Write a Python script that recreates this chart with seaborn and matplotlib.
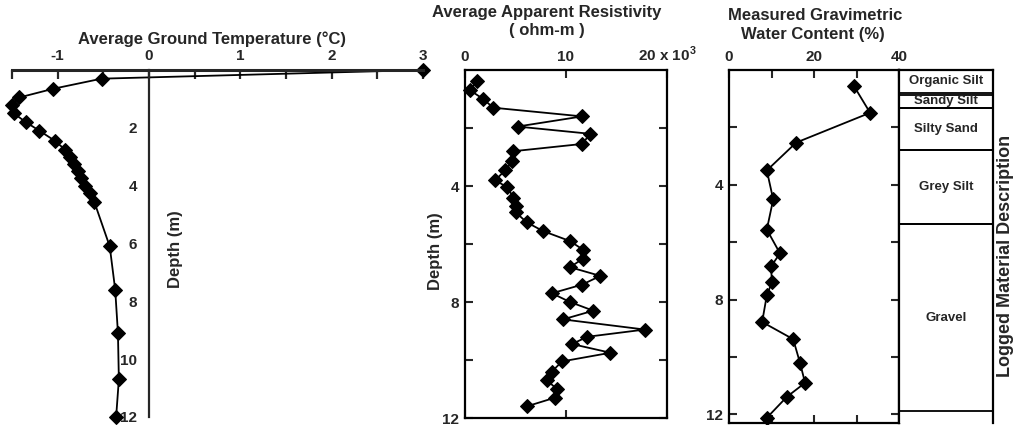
import numpy as np
import matplotlib.pyplot as plt
import seaborn as sns

# Average ground temperature profile
temp_depth = [0.0, 0.3, 0.65, 0.95, 1.2, 1.5, 1.8, 2.1, 2.45, 2.75, 3.0,
              3.25, 3.5, 3.75, 4.0, 4.25, 4.55, 6.1, 7.6, 9.1, 10.7, 12.0]
temp_c = [3.0, -0.52, -1.05, -1.42, -1.5, -1.48, -1.35, -1.2, -1.03, -0.92, -0.86,
          -0.82, -0.78, -0.74, -0.7, -0.65, -0.6, -0.43, -0.37, -0.34, -0.33, -0.36]

# Average apparent resistivity (x 10^3 ohm-m)
res_depth = [0.37, 0.7, 1.0, 1.3, 1.6, 1.95, 2.2, 2.55, 2.8, 3.15, 3.45, 3.8, 4.05,
             4.4, 4.7, 4.9, 5.25, 5.55, 5.9, 6.2, 6.5, 6.8, 7.1, 7.4, 7.7, 8.0,
             8.3, 8.6, 8.95, 9.2, 9.45, 9.75, 10.05, 10.4, 10.7, 11.0, 11.3, 11.6]
res_k = [1.2, 0.5, 1.8, 2.8, 11.6, 5.2, 12.4, 11.6, 4.8, 4.7, 4.0, 3.0, 4.2,
         4.8, 5.0, 5.0, 6.1, 7.7, 10.4, 11.7, 11.7, 10.4, 13.4, 11.6, 8.6, 10.4,
         12.7, 9.7, 17.8, 12.1, 10.6, 14.4, 9.6, 8.6, 8.1, 9.1, 8.9, 6.1]

# Measured gravimetric water content (%)
wc_depth = [0.56, 1.49, 2.53, 3.5, 4.51, 5.56, 6.39, 6.84, 7.4, 7.85, 8.78,
            9.38, 10.2, 10.9, 11.39, 12.12]
wc_pct = [29.4, 33.2, 15.8, 8.9, 10.4, 8.9, 12.0, 9.9, 10.1, 8.9, 7.8,
          15.1, 16.7, 17.9, 13.6, 8.9]

# Logged material description
layer_names = ["Organic Silt", "Sandy Silt", "Silty Sand", "Grey Silt", "Gravel"]
layer_top = [0.0, 0.86, 1.32, 2.78, 5.38]
layer_bottom = [0.8, 1.32, 2.78, 5.38, 11.88]

sns.set_style("white")
plt.rcParams["font.family"] = ["Liberation Sans", "DejaVu Sans"]
plt.rcParams["font.size"] = 11
plt.rcParams["font.weight"] = "bold"
plt.rcParams["axes.labelweight"] = "bold"
plt.rcParams["axes.unicode_minus"] = False
plt.rcParams["mathtext.fontset"] = "custom"
plt.rcParams["mathtext.rm"] = "Liberation Sans:bold"

W, H = 1015, 425
fig = plt.figure(figsize=(W / 100, H / 100), dpi=100)


def box(x0, y0, x1, y1):
    return [x0 / W, 1 - y1 / H, (x1 - x0) / W, (y1 - y0) / H]


ax1 = fig.add_axes(box(12, 70, 423, 417))
ax2 = fig.add_axes(box(465, 70, 667, 418))
ax3 = fig.add_axes(box(729, 70, 899, 423))
ax4 = fig.add_axes(box(899, 70, 993, 423))

line_kw = dict(sort=False, estimator=None, orient="y", color="black", lw=1.3,
               marker="D", markersize=7.5, markeredgecolor="black", clip_on=False)

# --- temperature ---
sns.lineplot(x=temp_c, y=temp_depth, ax=ax1, **line_kw)
ax1.set_xlim(-1.5, 3.0)
ax1.set_ylim(12, 0)
ax1.xaxis.tick_top()
ax1.set_xticks([-1, 0, 1, 2, 3])
ax1.set_xticks(np.arange(-1.5, 3.01, 0.5), minor=True)
ax1.tick_params(axis="x", which="both", direction="in", length=6.5, width=1.6,
                pad=5, top=True, bottom=False)
ax1.set_yticks([2, 4, 6, 8, 10, 12])
ax1.tick_params(axis="y", direction="inout", length=5, width=1.4, pad=6)
for s in ["right", "bottom"]:
    ax1.spines[s].set_visible(False)
ax1.spines["left"].set_position(("data", 0))
ax1.spines["left"].set_linewidth(1.6)
ax1.spines["top"].set_linewidth(2.2)
ax1.set_xlabel("")
ax1.set_ylabel("")
ax1.text(0.29, 6.2, "Depth (m)", rotation=90, ha="center", va="center", fontsize=12)

# --- resistivity ---
sns.lineplot(x=res_k, y=res_depth, ax=ax2, **line_kw)
ax2.set_xlim(0, 20)
ax2.set_ylim(12, 0)
ax2.xaxis.tick_top()
ax2.set_xticks([0, 10, 20])
ax2.set_xticklabels(["0", "10", "20 x 10$^{3}$"])
ax2.set_yticks([2, 4, 6, 8, 10, 12])
ax2.set_yticklabels(["", "4", "", "8", "", "12"])
ax2.set_xlabel("")
ax2.set_ylabel("Depth (m)", fontsize=12)
ax2.yaxis.set_label_coords(-0.11, 0.48)

# --- water content ---
sns.lineplot(x=wc_pct, y=wc_depth, ax=ax3, **line_kw)
ax3.set_xlim(0, 40)
ax3.set_ylim(12.3, 0)
ax3.xaxis.tick_top()
ax3.set_xticks([0, 10, 20, 30, 40])
ax3.set_xticklabels(["0", "", "20", "", "40"])
ax3.set_yticks([2, 4, 6, 8, 10, 12])
ax3.set_yticklabels(["", "4", "", "8", "", "12"])
ax3.set_xlabel("")
ax3.set_ylabel("")

for ax in (ax2, ax3):
    ax.tick_params(which="both", direction="in", length=6, width=1.5,
                   top=True, bottom=True, left=True, right=True,
                   labeltop=True, labelbottom=False, pad=4)
    for s in ax.spines.values():
        s.set_linewidth(1.6)
        s.set_color("black")

# --- material column ---
ax4.set_xlim(0, 1)
ax4.set_ylim(12.3, 0)
ax4.set_xticks([])
ax4.set_yticks([])
ax4.spines["bottom"].set_visible(False)
for s in ax4.spines.values():
    s.set_linewidth(1.6)
    s.set_color("black")
for name, top, bot in zip(layer_names, layer_top, layer_bottom):
    ax4.hlines([top, bot], 0, 1, color="black", lw=1.3)
    ax4.text(0.5, (top + bot) / 2, name, ha="center", va="center", fontsize=9.5)

# titles
fig.text(212 / W, 1 - 39 / H, "Average Ground Temperature (°C)", ha="center",
         va="center", fontsize=12)
fig.text(547 / W, 1 - 13 / H, "Average Apparent Resistivity", ha="center",
         va="center", fontsize=12)
fig.text(547 / W, 1 - 31 / H, "( ohm-m )", ha="center", va="center", fontsize=12)
fig.text(815 / W, 1 - 16 / H, "Measured Gravimetric", ha="center", va="center",
         fontsize=12)
fig.text(813 / W, 1 - 35 / H, "Water Content (%)", ha="center", va="center",
         fontsize=12)
fig.text(1005 / W, 1 - 256 / H, "Logged Material Description", rotation=90,
         ha="center", va="center", fontsize=13)

fig.savefig("out.png", dpi=100)
